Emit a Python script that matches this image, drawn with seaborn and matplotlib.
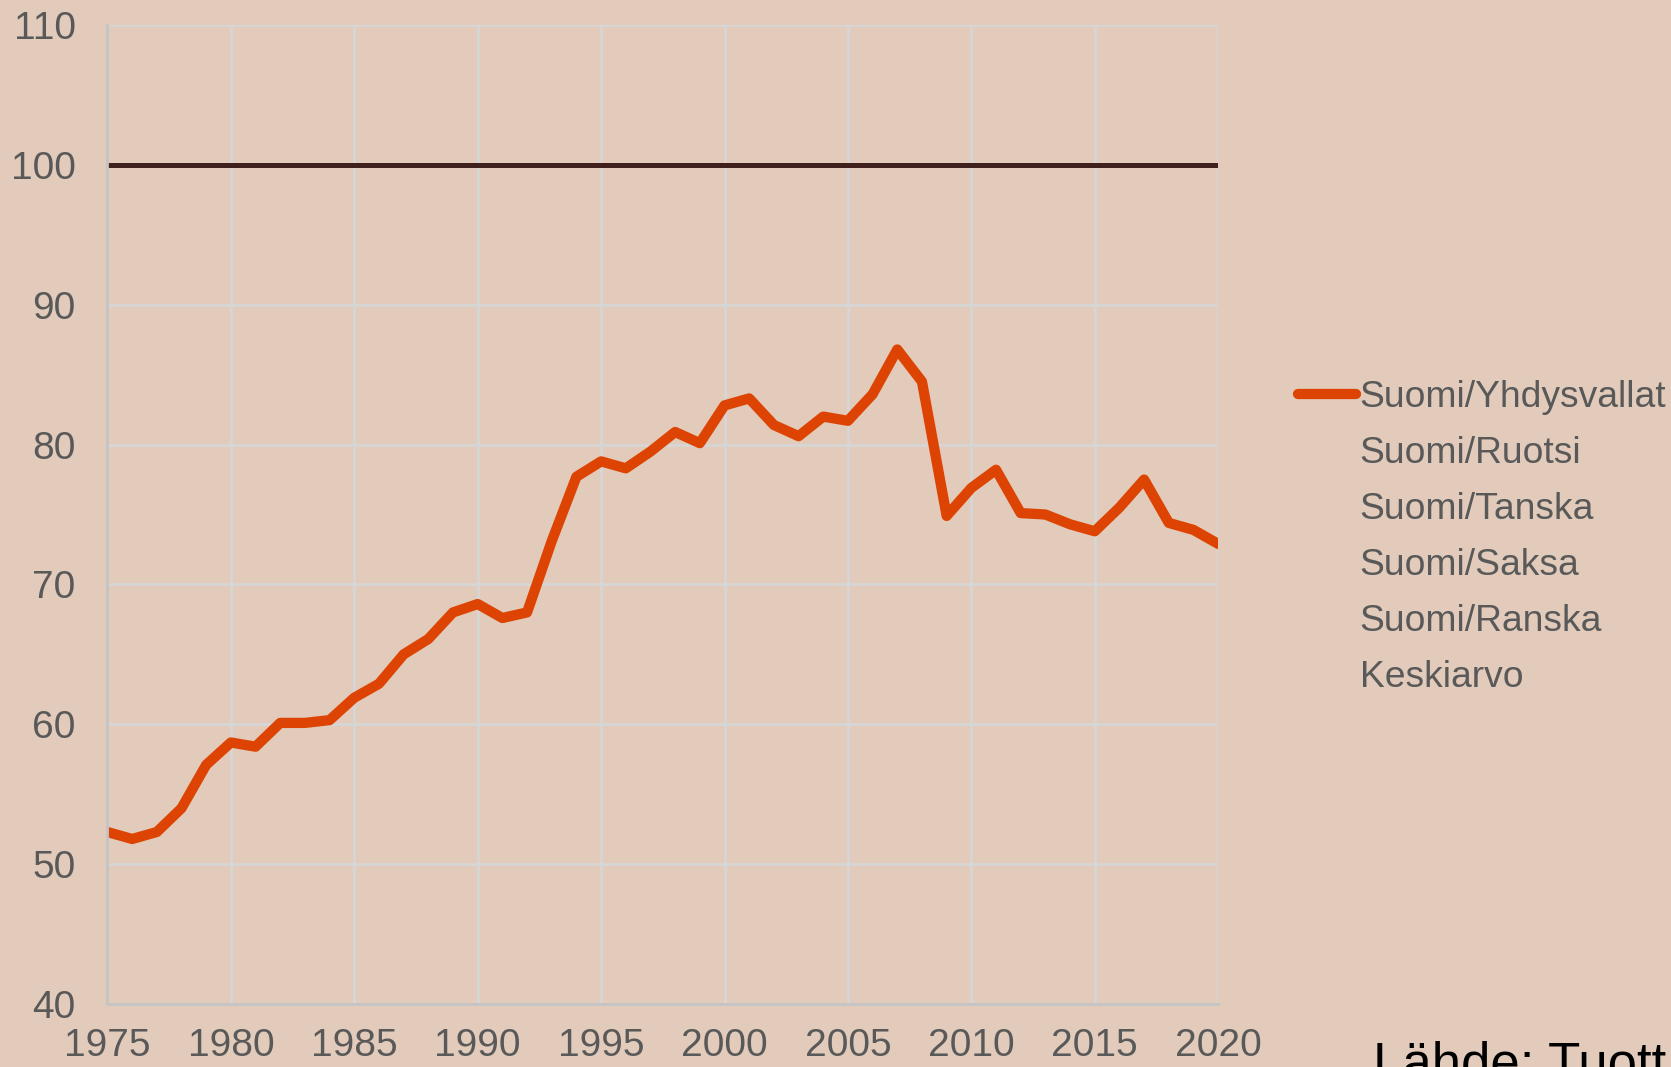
import seaborn as sns
import matplotlib.pyplot as plt
import pandas as pd
from matplotlib.lines import Line2D

# Suomi/Yhdysvallat
years = list(range(1975, 2021))
suomi_usa = [52.3, 51.8, 52.3, 54.0, 57.1, 58.7, 58.4, 60.1, 60.1, 60.3,
             61.9, 62.9, 65.0, 66.1, 68.0, 68.6, 67.6, 68.0, 73.1, 77.7,
             78.8, 78.3, 79.5, 80.9, 80.1, 82.8, 83.3, 81.4, 80.6, 82.0,
             81.7, 83.6, 86.8, 84.5, 74.9, 76.9, 78.2, 75.1, 75.0, 74.3,
             73.8, 75.5, 77.5, 74.4, 73.9, 72.9]
baseline = [100] * len(years)
legend_labels = ['Suomi/Yhdysvallat', 'Suomi/Ruotsi', 'Suomi/Tanska',
                 'Suomi/Saksa', 'Suomi/Ranska', 'Keskiarvo']
xticks = list(range(1975, 2021, 5))
yticks = list(range(40, 111, 10))

bg = '#e2cbba'
orange = '#dd4403'
grey_txt = '#595959'

df = pd.DataFrame({'Vuosi': years, 'Suhde': suomi_usa, 'Perus': baseline})

sns.set_style('white')
plt.rcParams['font.family'] = ['Liberation Sans', 'DejaVu Sans']

fig = plt.figure(figsize=(16.71, 10.67), dpi=100, facecolor=bg)
ax = fig.add_axes([0.0643, 0.059, 0.6647, 0.9176])
ax.set_facecolor(bg)

ax.grid(True, color='#d6d6d6', linewidth=2)
ax.set_axisbelow(True)

sns.lineplot(data=df, x='Vuosi', y='Perus', color='#40201c', linewidth=3.6, ax=ax)
sns.lineplot(data=df, x='Vuosi', y='Suhde', color=orange, linewidth=7.4, ax=ax)

ax.set_xlim(1975, 2020)
ax.set_ylim(40, 110)
ax.set_xticks(xticks)
ax.set_yticks(yticks)
ax.set_xlabel('')
ax.set_ylabel('')
ax.tick_params(axis='both', length=0, labelsize=28, labelcolor=grey_txt)
ax.tick_params(axis='y', pad=23)
ax.tick_params(axis='x', pad=17)

for side in ['top', 'right']:
    ax.spines[side].set_visible(False)
for side in ['left', 'bottom']:
    ax.spines[side].set_color('#c4c4c4')
    ax.spines[side].set_linewidth(2)

handles = [Line2D([], [], color=orange, linewidth=7.4, solid_capstyle='round')]
handles += [Line2D([], [], color='none') for _ in legend_labels[1:]]
fig.legend(handles, legend_labels, loc='center left',
           bbox_to_anchor=(0.768, 0.496), frameon=False, fontsize=26.8,
           labelcolor=grey_txt, handlelength=1.55, handletextpad=0.1,
           labelspacing=0.565, borderaxespad=0)

fig.text(0.8217, -0.012, 'Lähde: Tuott', fontsize=38, color='black',
         ha='left', va='baseline')

fig.savefig('out.png', dpi=100, facecolor=bg)
